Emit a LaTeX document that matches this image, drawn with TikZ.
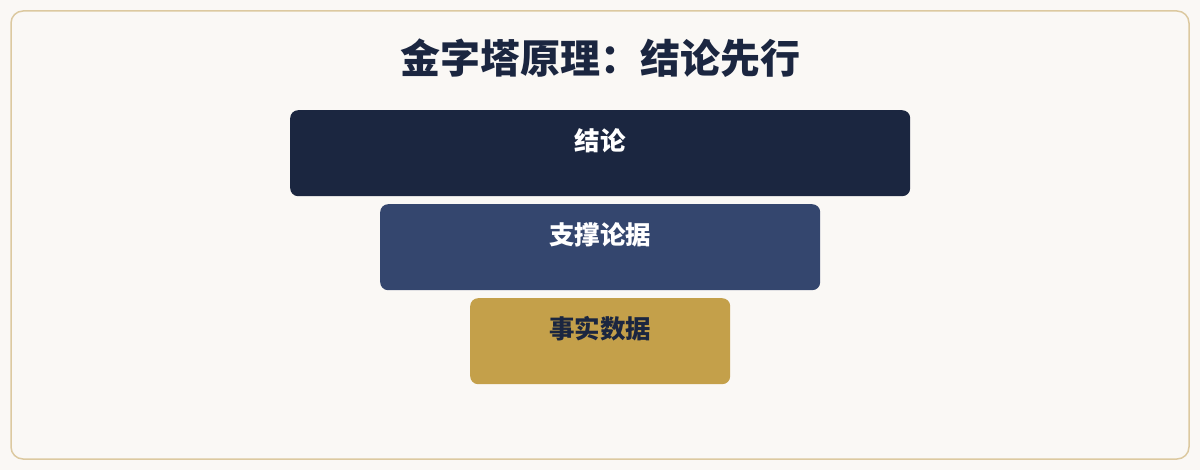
\documentclass[tikz,border=0pt]{standalone}
\usepackage{fontspec}
\newfontfamily\cjk{Noto Sans CJK SC}
\definecolor{bgc}{HTML}{FAF8F5}
\definecolor{borderc}{HTML}{DCC9A0}
\definecolor{navy}{HTML}{1B2640}
\definecolor{midblue}{HTML}{34466E}
\definecolor{gold}{HTML}{C4A04A}
\tikzset{
  layer/.style={rounded corners=8pt, inner sep=0pt, anchor=north west},
  lbl/.style={font=\cjk\bfseries\fontsize{25.5}{30}\selectfont, inner sep=0pt}
}
\begin{document}
\begin{tikzpicture}[x=1pt,y=-1pt]
\useasboundingbox (0,0) rectangle (1200,470);
\fill[bgc] (0,0) rectangle (1200,470);
\draw[borderc, line width=1.5pt, rounded corners=12pt, fill=bgc] (11,11) rectangle (1189,459);
\node[font=\cjk\bfseries\fontsize{40}{46}\selectfont, text=navy, inner sep=0pt] (title) at (600,58) {金字塔原理：结论先行};
\node[layer, fill=navy, minimum width=620pt, minimum height=86pt] (b1) at (290,110) {};
\node[layer, fill=midblue, minimum width=440pt, minimum height=86pt] (b2) at (380,204) {};
\node[layer, fill=gold, minimum width=260pt, minimum height=86pt] (b3) at (470,298) {};
\node[lbl, text=white] (t1) at ([yshift=-31pt]b1.north) {结论};
\node[lbl, text=white] (t2) at ([yshift=-31pt]b2.north) {支撑论据};
\node[lbl, text=navy] (t3) at ([yshift=-31pt]b3.north) {事实数据};
\end{tikzpicture}
\end{document}
